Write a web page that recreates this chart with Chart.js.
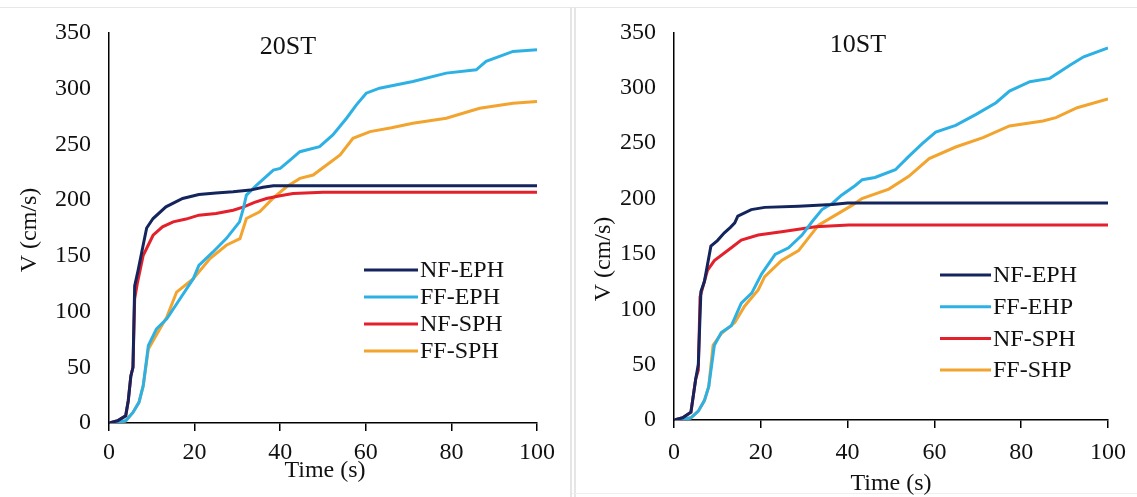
<!DOCTYPE html>
<html>
<head>
<meta charset="utf-8">
<script src="https://cdn.jsdelivr.net/npm/chart.js@4.4.1/dist/chart.umd.min.js"></script>
<style>
  html, body { margin: 0; padding: 0; background: #fff; }
  #wrap { position: relative; width: 1137px; height: 497px; overflow: hidden; }
  #topline { position: absolute; left: 0; top: 7px; width: 1137px; height: 1px; background: #e8e8e8; }
  .divider { position: absolute; top: 7px; width: 2px; height: 490px; background: #e6e6e6; }
  #botline { position: absolute; left: 572px; top: 493px; width: 565px; height: 1px; background: #efefef; }
  canvas { position: absolute; top: 0; }
</style>
</head>
<body>
<div id="wrap">
  <div id="topline"></div>
  <div class="divider" style="left:570px"></div>
  <div class="divider" style="left:574px"></div>
  <div id="botline"></div>
  <canvas id="chart20" width="568" height="497" style="left:0"></canvas>
  <canvas id="chart10" width="561" height="497" style="left:576px"></canvas>
</div>
<script>
// axis ticks
const timeTicks = [0, 20, 40, 60, 80, 100];
const speedTicks = [0, 50, 100, 150, 200, 250, 300, 350];

// 20ST run
const st20NfEphT = [0, 2, 3.9, 4.5, 5.1, 5.6, 6.0, 6.8, 8, 8.8, 10.3, 13.3, 17.2, 21, 25, 29, 33, 36, 38.4, 100];
const st20NfEphV = [0, 2, 6.5, 20, 42, 50, 123, 137, 160, 175, 183.5, 194, 201.5, 205, 206.5, 207.5, 209, 211.5, 213, 213];
const st20FfEphT = [0, 2, 3.9, 5.6, 7, 8, 9.2, 11.1, 13.5, 16.6, 19.7, 21, 24.3, 27.4, 30.5, 31.4, 32.1, 34.5, 38.4, 40, 42.3, 44.6, 49.2, 52.3, 55.5, 57.8, 60.1, 63.2, 71, 78.8, 85.8, 88.1, 94.4, 100];
const st20FfEphV = [0, 0.5, 2, 9.5, 18.5, 33.5, 69.5, 84.5, 93.5, 111.5, 129.5, 141.5, 153.5, 165.5, 180.5, 192.5, 204.5, 213.5, 227, 228.5, 236, 243.5, 248, 258.5, 273.5, 285.5, 296, 300.5, 306.5, 314, 317, 324.5, 333.5, 335];
const st20NfSphT = [0, 2, 3.9, 4.5, 5.1, 5.6, 6.0, 6.6, 8, 10.3, 12.5, 15, 18, 21, 25, 29, 31.5, 34, 36.8, 40, 43, 50, 100];
const st20NfSphV = [0, 2, 6.5, 20, 42, 50, 111.5, 125, 150.5, 168.5, 176, 180.5, 183, 186.5, 188, 191, 194, 198, 201.5, 204, 206, 207, 207];
const st20FfSphT = [0, 2, 3.9, 5.6, 7, 8, 9.2, 11.9, 13.5, 15.8, 19.7, 23.6, 27.4, 30.6, 32.1, 35.2, 38.4, 41.5, 44.6, 47.7, 51, 54, 57, 61, 66, 71, 78.8, 86.6, 94.4, 100];
const st20FfSphV = [0, 0.5, 2, 9.5, 18.5, 33.5, 66.5, 84.5, 95, 117.5, 129.5, 147.5, 159.5, 165.5, 183.5, 189.5, 202, 212, 219.5, 222.5, 232, 240.5, 255.5, 261.5, 265, 269, 273.5, 282.5, 287, 288.5];

// 10ST run
const st10NfEphT = [0, 2, 3.9, 5, 5.6, 6.2, 7, 8.5, 10, 11.6, 13, 14, 14.7, 17.8, 20.9, 28.7, 36.4, 40, 100];
const st10NfEphV = [0, 2, 7, 37, 50, 116, 125, 157, 162, 169, 174, 178, 184, 190, 192, 193, 194.5, 196, 196];
const st10FfEhpT = [0, 2, 3.9, 5.6, 7, 8, 9.3, 10.9, 13.2, 15.5, 17.9, 20.2, 23.3, 26.4, 29.5, 31.8, 34.1, 36.6, 38.6, 41.7, 43.4, 46.3, 51, 54.1, 57.2, 60.3, 64.9, 69.6, 74.2, 77.3, 82, 86.6, 91.3, 94.4, 100];
const st10FfEhpV = [0, 0.5, 2, 8, 17.5, 30, 67.5, 79, 85, 105.5, 114.5, 132, 149.5, 155.5, 167, 179, 190, 196, 203, 211.5, 217, 219, 226, 238, 249.5, 260, 266, 276, 286.5, 297, 305.5, 308.5, 320.5, 328, 336];
const st10NfSphT = [0, 2, 3.9, 5, 5.6, 6, 7.7, 9.3, 13.2, 15.5, 19.4, 24.8, 32.6, 40.3, 100];
const st10NfSphV = [0, 2, 7, 37, 45, 111, 135, 144, 155.5, 162.5, 167, 170, 174.5, 176, 176];
const st10FfShpT = [0, 2, 3.9, 5.6, 7, 8, 9, 10.9, 14, 16.3, 19.4, 20.9, 24.8, 28.7, 31, 33.3, 37.2, 41.1, 43.3, 49.5, 54.1, 58.8, 64.9, 71.2, 77.3, 85, 88, 92.9, 100];
const st10FfShpV = [0, 0.5, 2, 8, 17.5, 30, 67.5, 78, 88, 103, 117.5, 129.5, 144, 153, 164.5, 176, 185, 194, 200, 208.5, 220, 236, 246.5, 255, 265.5, 270, 273, 282, 290];

const NAVY = '#14245c';
const CYAN = '#2db1e4';
const RED = '#e3202b';
const ORANGE = '#f2a42e';
const SERIF = '"Liberation Serif", "Times New Roman", serif';

function toPoints(ts, vs) {
  return ts.map((t, i) => ({ x: t, y: vs[i] }));
}

function series(label, color, ts, vs) {
  return {
    label: label,
    data: toPoints(ts, vs),
    borderColor: color,
    backgroundColor: color,
    borderWidth: 3,
    pointRadius: 0,
    tension: 0,
    fill: false
  };
}

// titles, axis names and the inset legend
const panelText = {
  id: 'panelText',
  afterDraw(chart, args, opts) {
    const ctx = chart.ctx;
    ctx.save();
    ctx.fillStyle = '#111';
    ctx.textAlign = 'center';
    ctx.textBaseline = 'middle';
    ctx.font = '26px ' + SERIF;
    ctx.fillText(opts.title, opts.titleX, opts.titleY);
    ctx.font = '24px ' + SERIF;
    ctx.fillText('Time (s)', opts.xTitleX, opts.xTitleY);

    ctx.save();
    ctx.translate(opts.yTitleX, opts.yTitleY);
    ctx.rotate(-Math.PI / 2);
    ctx.fillText('V (cm/s)', 0, 0);
    ctx.restore();

    ctx.textAlign = 'left';
    chart.data.datasets.forEach((ds, i) => {
      const y = opts.legendY + i * opts.legendStep;
      ctx.strokeStyle = ds.borderColor;
      ctx.lineWidth = 3;
      ctx.beginPath();
      ctx.moveTo(opts.legendX, y);
      ctx.lineTo(opts.legendX + opts.legendLen, y);
      ctx.stroke();
      ctx.fillText(ds.label, opts.legendX + opts.legendLen + 2, y + 1);
    });
    ctx.restore();
  }
};

function makeChart(id, datasets, box, text) {
  return new Chart(document.getElementById(id), {
    type: 'line',
    data: { datasets: datasets },
    plugins: [panelText],
    options: {
      responsive: false,
      animation: false,
      devicePixelRatio: 1,
      layout: { padding: { left: 0, top: box.top, right: box.right, bottom: 0 } },
      plugins: {
        legend: { display: false },
        tooltip: { enabled: false },
        panelText: text
      },
      scales: {
        x: {
          type: 'linear',
          min: 0,
          max: 100,
          afterBuildTicks: s => { s.ticks = timeTicks.map(v => ({ value: v })); },
          afterFit: s => { s.height = box.xHeight; },
          grid: { drawOnChartArea: false, drawTicks: true, tickLength: 8, color: '#000', lineWidth: 1.5 },
          border: { color: '#000', width: 1.5 },
          ticks: { color: '#111', padding: box.xPad, maxRotation: 0, font: { family: SERIF, size: 24 } }
        },
        y: {
          type: 'linear',
          min: 0,
          max: 350,
          afterBuildTicks: s => { s.ticks = speedTicks.map(v => ({ value: v })); },
          afterFit: s => { s.width = box.yWidth; },
          grid: { drawOnChartArea: false, drawTicks: false },
          border: { color: '#000', width: 1.5 },
          ticks: { color: '#111', padding: 18, font: { family: SERIF, size: 24 } }
        }
      }
    }
  });
}

makeChart('chart20', [
  series('NF-EPH', NAVY, st20NfEphT, st20NfEphV),
  series('FF-EPH', CYAN, st20FfEphT, st20FfEphV),
  series('NF-SPH', RED, st20NfSphT, st20NfSphV),
  series('FF-SPH', ORANGE, st20FfSphT, st20FfSphV)
], { top: 33, right: 31, xHeight: 74, yWidth: 109, xPad: 7 }, {
  title: '20ST', titleX: 288, titleY: 47,
  xTitleX: 325, xTitleY: 471,
  yTitleX: 30, yTitleY: 230,
  legendX: 364, legendY: 270, legendStep: 27, legendLen: 54
});

makeChart('chart10', [
  series('NF-EPH', NAVY, st10NfEphT, st10NfEphV),
  series('FF-EHP', CYAN, st10FfEhpT, st10FfEhpV),
  series('NF-SPH', RED, st10NfSphT, st10NfSphV),
  series('FF-SHP', ORANGE, st10FfShpT, st10FfShpV)
], { top: 22, right: 29, xHeight: 77, yWidth: 98, xPad: 10 }, {
  title: '10ST', titleX: 282, titleY: 45,
  xTitleX: 315, xTitleY: 484,
  yTitleX: 28, yTitleY: 259,
  legendX: 364, legendY: 275, legendStep: 31.7, legendLen: 51
});
</script>
</body>
</html>
